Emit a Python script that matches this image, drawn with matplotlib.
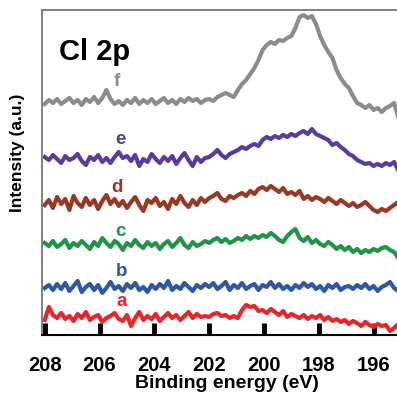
import numpy as np
import matplotlib
matplotlib.use("Agg")
import matplotlib.pyplot as plt

plt.rcParams['font.family'] = ['Liberation Sans', 'DejaVu Sans']

energy = np.linspace(208.0, 195.1, 87)

f_vals = [231, 235, 232, 236, 231, 234, 237, 232, 235, 230, 236, 233, 238, 232, 237, 245, 236, 231, 234, 230,
          235, 232, 237, 231, 235, 232, 236, 231, 234, 237, 232, 235, 231, 236, 233, 237, 234, 236, 232, 235,
          236, 234, 238, 240, 242, 240, 238, 245, 251, 255, 261, 267, 275, 285, 290, 293, 291, 295, 294, 297,
          299, 307, 318, 320, 317, 319, 311, 299, 290, 283, 277, 265, 257, 251, 247, 239, 232, 230, 227, 230,
          225, 227, 223, 227, 229, 232, 218]
e_vals = [178, 175, 180, 176, 172, 179, 175, 177, 181, 174, 170, 178, 175, 180, 173, 177, 172, 178, 183, 177,
          179, 174, 180, 169, 176, 173, 181, 176, 172, 178, 174, 179, 171, 177, 182, 175, 169, 178, 173, 177,
          178, 181, 185, 180, 177, 181, 183, 185, 188, 186, 189, 191, 189, 195, 198, 196, 199, 197, 200, 198,
          201, 199, 202, 204, 201, 206, 201, 199, 197, 195, 190, 192, 188, 185, 181, 179, 175, 173, 171, 172,
          169, 171, 169, 172, 170, 173, 165]
d_vals = [130, 135, 127, 138, 131, 136, 125, 139, 132, 128, 137, 130, 135, 126, 134, 140, 131, 136, 129, 134,
          127, 133, 138, 130, 124, 135, 132, 137, 129, 133, 126, 136, 131, 139, 132, 128, 135, 130, 137, 133,
          137, 139, 142, 136, 134, 139, 137, 140, 142, 139, 144, 141, 146, 148, 145, 149, 146, 143, 147, 141,
          143, 140, 144, 136, 139, 135, 138, 136, 133, 137, 134, 131, 135, 132, 129, 132, 128, 130, 133, 129,
          125, 123, 126, 124, 127, 130, 133]
c_vals = [92, 89, 94, 88, 91, 95, 87, 92, 89, 94, 90, 86, 93, 89, 97, 92, 88, 94, 91, 85,
          92, 89, 95, 90, 87, 93, 89, 92, 86, 91, 94, 88, 92, 97, 90, 87, 93, 89, 91, 94,
          92, 95, 97, 93, 96, 92, 94, 97, 95, 99, 96, 99, 97, 100, 98, 102, 99, 95, 93, 99,
          103, 106, 97, 94, 98, 92, 95, 91, 89, 93, 90, 86, 89, 85, 88, 83, 86, 82, 85, 83,
          86, 84, 87, 88, 85, 83, 77]
b_vals = [47, 50, 45, 51, 46, 52, 44, 49, 54, 43, 48, 51, 45, 50, 42, 47, 53, 46, 49, 44,
          51, 47, 52, 45, 48, 43, 50, 46, 51, 47, 54, 45, 49, 46, 52, 48, 44, 50, 47, 51,
          48, 52, 46, 49, 53, 45, 50, 47, 52, 46, 49, 51, 45, 50, 48, 53, 47, 51, 46, 49,
          45, 50, 47, 52, 48, 51, 46, 49, 44, 50, 47, 51, 45, 48, 49, 46, 50, 47, 51, 46,
          49, 44, 48, 50, 53, 47, 44]
a_vals = [15, 28, 20, 17, 22, 16, 19, 14, 21, 17, 23, 15, 18, 20, 13, 17, 19, 22, 16, 14,
          20, 9, 17, 23, 15, 19, 16, 21, 14, 18, 22, 17, 20, 15, 19, 23, 17, 21, 18, 19,
          18, 21, 22, 19, 20, 17, 19, 17, 25, 30, 28, 29, 24, 25, 22, 26, 23, 20, 24, 18,
          21, 19, 17, 20, 16, 19, 17, 20, 15, 18, 14, 16, 13, 15, 11, 14, 12, 9, 13, 10,
          8, 11, 9, 10, 4, 7, 11]

series_names = ['a', 'b', 'c', 'd', 'e', 'f']
series_vals = [a_vals, b_vals, c_vals, d_vals, e_vals, f_vals]
series_colors = ['#e8262a', '#2f57a8', '#21944a', '#983a22', '#5b3b9e', '#8c8c8c']
label_pos = [(205.18, 33), (205.18, 64), (205.25, 104), (205.36, 148), (205.25, 196), (205.36, 253)]

tick_vals = [208, 206, 204, 202, 200, 198, 196]

fig = plt.figure(figsize=(3.97, 3.96), dpi=100)
ax = fig.add_axes([42/397, 61/396, 370/397, 325/396])

for name, vals, col, (lx, ly) in zip(series_names, series_vals, series_colors, label_pos):
    ax.plot(energy, vals, color=col, lw=3.0, solid_joinstyle='round')
    ax.text(lx, ly, name, color=col, fontsize=13.5, fontweight='bold', ha='center', va='center')

ax.set_xlim(208.1, 208.1 - 370/27.4)
ax.set_ylim(0, 325)
ax.set_xticks(tick_vals)
ax.set_xticklabels([str(t) for t in tick_vals], fontsize=14.5, fontweight='bold')
ax.tick_params(axis='x', direction='in', length=9, width=3.5, pad=15, color='black')
ax.set_yticks([])

for s in ['left', 'top']:
    ax.spines[s].set_color('#777777')
    ax.spines[s].set_linewidth(1.3)
ax.spines['right'].set_visible(False)
ax.spines['bottom'].set_color('black')
ax.spines['bottom'].set_linewidth(1.5)

ax.text(0.045, 0.87, 'Cl 2p', transform=ax.transAxes, fontsize=21, fontweight='bold',
        ha='left', va='center')

ax.set_xlabel('Binding energy (eV)', fontsize=14, fontweight='bold', labelpad=0)
fig.text(18/397, 1 - 153/396, 'Intensity (a.u.)', rotation=90, fontsize=12.5, fontweight='bold',
         ha='center', va='center')

fig.savefig('out.png', dpi=100)
